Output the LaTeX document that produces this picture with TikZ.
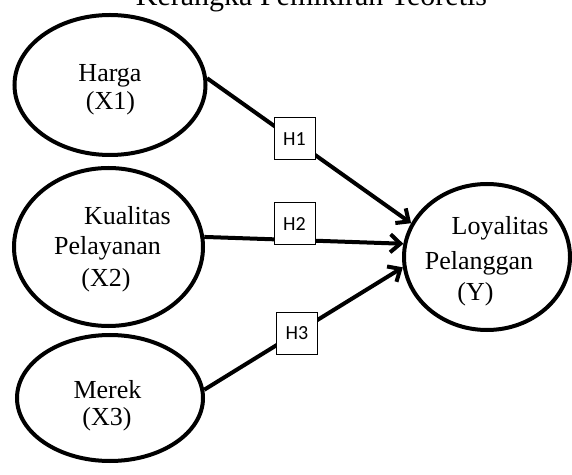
\documentclass[tikz,border=0pt]{standalone}
\usepackage{fontspec}
\setmainfont{Liberation Serif}
\newfontfamily\calibri{Carlito}
\usetikzlibrary{arrows.meta,shapes.geometric}

\begin{document}
\begin{tikzpicture}[x=0.5pt,y=-0.5pt,
    konsep/.style={draw, ellipse, line width=2pt, inner sep=0pt},
    teks/.style={anchor=base, inner sep=0pt, font=\fontsize{13}{15}\selectfont},
    hipotesis/.style={draw, fill=white, line width=0.5pt, minimum width=20.5pt,
      minimum height=21pt, inner sep=0pt, font=\calibri\fontsize{10}{12}\selectfont},
    panah/.style={line width=2pt, -{Straight Barb[length=5pt,width=9pt]}}]
    \useasboundingbox (0,0) rectangle (572,475);
    % judul
    \node[anchor=base, inner sep=0pt, font=\fontsize{15}{17}\selectfont] (judul) at (311.5,6) {Kerangka Pemikiran Teoretis};
    % variabel
    \node[konsep, minimum width=95.5pt, minimum height=70pt] (harga) at (110,85) {};
    \node[konsep, minimum width=94.5pt, minimum height=79pt] (kualitas) at (108.5,247) {};
    \node[konsep, minimum width=93pt, minimum height=63pt] (merek) at (110,398) {};
    \node[konsep, minimum width=83pt, minimum height=73pt] (loyal) at (487,257) {};
    \node[teks] (t1a) at (110,82) {Harga};
    \node[teks] (t1b) at (110.5,110) {(X1)};
    \node[teks] (t2a) at (127.5,225) {Kualitas};
    \node[teks] (t2b) at (107.5,255) {Pelayanan};
    \node[teks] (t2c) at (106,287) {(X2)};
    \node[teks] (t3a) at (107.5,398) {Merek};
    \node[teks] (t3b) at (107,425) {(X3)};
    \node[teks] (tya) at (500,235) {Loyalitas};
    \node[teks] (tyb) at (479,270) {Pelanggan};
    \node[teks] (tyc) at (475.5,300) {(Y)};
    % hubungan
    \draw[panah] (harga.4) -- (loyal.156);
    \draw[panah] (kualitas.6) -- (loyal.171);
    \draw[panah] (merek.5) -- (loyal.187);
    \node[hipotesis] (h1) at (294.5,139) {H1};
    \node[hipotesis] (h2) at (294.5,224) {H2};
    \node[hipotesis] (h3) at (297,333.5) {H3};
\end{tikzpicture}
\end{document}
